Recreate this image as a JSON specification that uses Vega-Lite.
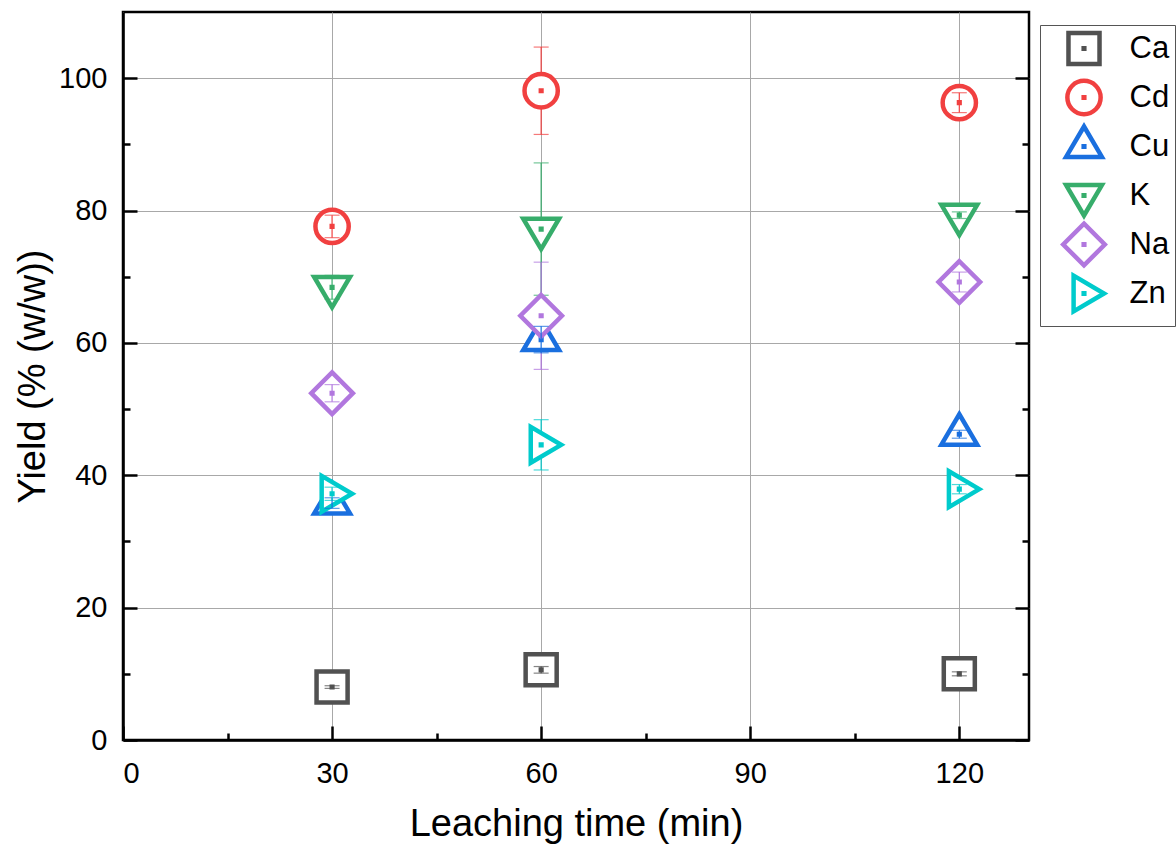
{
  "$schema": "https://vega.github.io/schema/vega-lite/v6.json",
  "autosize": {"type": "none"},
  "width": 906,
  "height": 728,
  "padding": {"left": 123, "top": 12, "right": 147, "bottom": 105},
  "background": "white",
  "config": {
    "view": {"stroke": "black", "strokeWidth": 2.5},
    "font": "Liberation Sans",
    "axis": {"labelFont": "Liberation Sans", "titleFont": "Liberation Sans", "tickColor": "black", "tickWidth": 2.5, "domainColor": "black", "domainWidth": 2.5, "labelColor": "black", "titleColor": "black", "titleFontWeight": "normal", "gridColor": "#a8a8a8", "gridWidth": 1, "gridOpacity": 1},
    "legend": {"orient": "none", "legendX": 917, "legendY": 13, "symbolSize": 1024, "symbolStrokeWidth": 4.5, "symbolFillColor": "white", "labelFontSize": 31, "labelFont": "Liberation Sans", "labelColor": "black", "padding": 5, "rowPadding": -26, "gridAlign": "all", "symbolOffset": 20.5, "labelOffset": 27, "strokeColor": "#555555", "fillColor": "white"}
  },
  "data": {
    "values": [
      {"t": 30, "el": "Ca", "y": 8.0, "err": 0.2},
      {"t": 60, "el": "Ca", "y": 10.6, "err": 0.5},
      {"t": 120, "el": "Ca", "y": 10.0, "err": 0.3},
      {"t": 30, "el": "Cd", "y": 77.6, "err": 1.7},
      {"t": 60, "el": "Cd", "y": 98.1, "err": 6.6},
      {"t": 120, "el": "Cd", "y": 96.3, "err": 1.5},
      {"t": 30, "el": "Cu", "y": 35.8, "err": 0.8},
      {"t": 60, "el": "Cu", "y": 60.5, "err": 2.0},
      {"t": 120, "el": "Cu", "y": 46.2, "err": 0.6},
      {"t": 30, "el": "K", "y": 68.4, "err": 1.8},
      {"t": 60, "el": "K", "y": 77.2, "err": 10.0},
      {"t": 120, "el": "K", "y": 79.3, "err": 0.5},
      {"t": 30, "el": "Na", "y": 52.4, "err": 1.3},
      {"t": 60, "el": "Na", "y": 64.1, "err": 8.1},
      {"t": 120, "el": "Na", "y": 69.2, "err": 1.5},
      {"t": 30, "el": "Zn", "y": 37.2, "err": 1.0},
      {"t": 60, "el": "Zn", "y": 44.6, "err": 3.8},
      {"t": 120, "el": "Zn", "y": 37.9, "err": 0.7}
    ]
  },
  "resolve": {"axis": {"x": "independent", "y": "independent"}},
  "layer": [
    {
      "transform": [{"filter": "datum.err >= 2.5"}],
      "mark": {"type": "errorbar", "ticks": {"size": 15, "thickness": 1.2}, "rule": {"strokeWidth": 1.2}},
      "encoding": {
        "x": {"field": "t", "type": "quantitative", "scale": {"domain": [0, 130], "nice": false, "zero": false},
          "axis": {"orient": "bottom", "values": [0, 30, 60, 90, 120], "tickSize": -14, "labelFontSize": 29, "labelPadding": 33, "grid": true, "title": "Leaching time (min)", "titleFontSize": 38, "titlePadding": 17}},
        "y": {"field": "y", "type": "quantitative", "scale": {"domain": [0, 110], "nice": false, "zero": false},
          "axis": {"orient": "left", "values": [0, 20, 40, 60, 80, 100], "tickSize": -14, "labelFontSize": 29, "labelPadding": 30, "grid": true, "title": "Yield (% (w/w))", "titleFontSize": 38, "titlePadding": 6}},
        "yError": {"field": "err"},
        "color": {"field": "el", "type": "nominal", "scale": {"range": ["#515151", "#F14040", "#1A6FDF", "#37AD6B", "#B177DE", "#00CBCC"]}, "legend": null}
      }
    },
    {
      "transform": [{"filter": {"field": "el", "oneOf": ["Ca", "Cd", "Cu"]}}],
      "mark": {"type": "point", "filled": false, "fill": "white", "strokeWidth": 4.5, "size": 1024, "opacity": 1},
      "encoding": {
        "x": {"field": "t", "type": "quantitative", "scale": {"domain": [0, 130], "nice": false, "zero": false},
          "axis": {"orient": "bottom", "values": [15, 45, 75, 105], "tickSize": -7, "labels": false, "domain": false, "grid": false, "title": null}},
        "y": {"field": "y", "type": "quantitative", "scale": {"domain": [0, 110], "nice": false, "zero": false},
          "axis": {"orient": "left", "values": [10, 30, 50, 70, 90], "tickSize": -7, "labels": false, "domain": false, "grid": false, "title": null}},
        "stroke": {"field": "el", "type": "nominal", "title": null, "scale": {"domain": ["Ca", "Cd", "Cu", "K", "Na", "Zn"], "range": ["#515151", "#F14040", "#1A6FDF", "#37AD6B", "#B177DE", "#00CBCC"]}},
        "shape": {"field": "el", "type": "nominal", "title": null, "scale": {"domain": ["Ca", "Cd", "Cu", "K", "Na", "Zn"], "range": [
          "M-0.97,-0.97L0.97,-0.97L0.97,0.97L-0.97,0.97ZM-0.02,-0.02L0.02,-0.02L0.02,0.02L-0.02,0.02Z",
          "M-1.04,0A1.04,1.04,0,1,0,1.04,0A1.04,1.04,0,1,0,-1.04,0ZM-0.02,-0.02L0.02,-0.02L0.02,0.02L-0.02,0.02Z",
          "M0,-1.25L1.12,0.65L-1.12,0.65ZM-0.02,-0.02L0.02,-0.02L0.02,0.02L-0.02,0.02Z",
          "M0,1.25L-1.12,-0.65L1.12,-0.65ZM-0.02,-0.02L0.02,-0.02L0.02,0.02L-0.02,0.02Z",
          "M0,-1.3L1.3,0L0,1.3L-1.3,0ZM-0.02,-0.02L0.02,-0.02L0.02,0.02L-0.02,0.02Z",
          "M1.25,0L-0.65,1.12L-0.65,-1.12ZM-0.02,-0.02L0.02,-0.02L0.02,0.02L-0.02,0.02Z"
        ]}}
      }
    },
    {
      "transform": [{"filter": {"field": "el", "oneOf": ["K", "Na", "Zn"]}}],
      "mark": {"type": "point", "filled": false, "fill": "white", "strokeWidth": 4.5, "size": 1024, "opacity": 1},
      "encoding": {
        "x": {"field": "t", "type": "quantitative", "scale": {"domain": [0, 130], "nice": false, "zero": false}, "axis": null},
        "y": {"field": "y", "type": "quantitative", "scale": {"domain": [0, 110], "nice": false, "zero": false},
          "axis": {"orient": "right", "values": [0, 20, 40, 60, 80, 100], "tickSize": -14, "labels": false, "domain": false, "grid": false, "title": null}},
        "stroke": {"field": "el", "type": "nominal", "title": null},
        "shape": {"field": "el", "type": "nominal", "title": null}
      }
    },
    {
      "transform": [{"filter": "datum.err < 2.5"}],
      "mark": {"type": "errorbar", "ticks": {"size": 15, "thickness": 1.2}, "rule": {"strokeWidth": 1.2}},
      "encoding": {
        "x": {"field": "t", "type": "quantitative", "scale": {"domain": [0, 130], "nice": false, "zero": false}, "axis": null},
        "y": {"field": "y", "type": "quantitative", "scale": {"domain": [0, 110], "nice": false, "zero": false},
          "axis": {"orient": "right", "values": [10, 30, 50, 70, 90], "tickSize": -7, "labels": false, "domain": false, "grid": false, "title": null}},
        "yError": {"field": "err"},
        "color": {"field": "el", "type": "nominal", "legend": null}
      }
    }
  ]
}
